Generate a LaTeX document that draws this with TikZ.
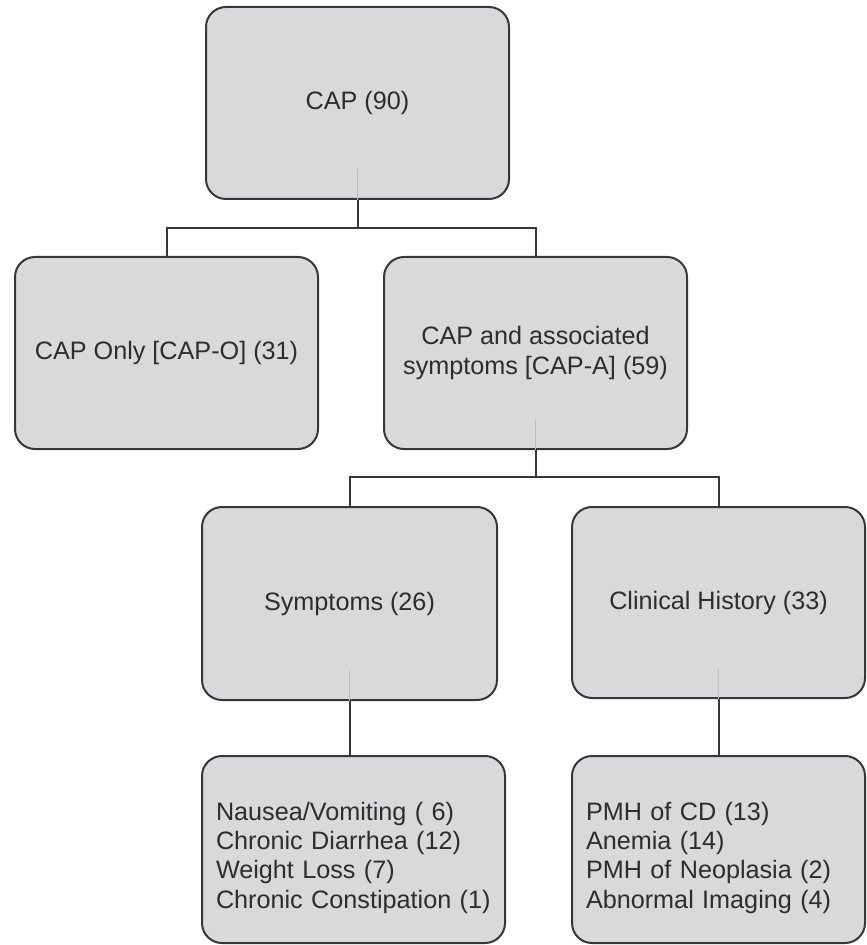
\documentclass[tikz,border=0pt]{standalone}
\usepackage{fontspec}
\setmainfont{Liberation Sans}
\definecolor{boxgray}{RGB}{216,217,219}
\definecolor{linegray}{RGB}{55,55,55}
\definecolor{textgray}{RGB}{45,45,45}
\definecolor{ghostgray}{RGB}{190,190,192}
\begin{document}
\begin{tikzpicture}[x=0.5pt,y=-0.5pt,
  box/.style={draw=linegray, line width=1pt, fill=boxgray, rounded corners=10pt,
    text=textgray, font=\fontsize{12.6}{14.6}\selectfont, align=center, inner sep=0pt},
  listbox/.style={box, align=left, inner xsep=7pt, text width=#1},
  conn/.style={draw=linegray, line width=1pt},
  ghost/.style={draw=ghostgray, line width=0.6pt}]
\useasboundingbox (0,0) rectangle (866,945);

\node[box, minimum width=151.5pt, minimum height=96pt] (cap) at (357.5,103) {CAP (90)};
\node[box, minimum width=151.5pt, minimum height=96pt] (capo) at (166.5,353) {CAP Only [CAP-O] (31)};
\node[box, minimum width=151.5pt, minimum height=96pt] (capa) at (535.5,353) {CAP and associated\\symptoms [CAP-A] (59)};
\node[box, minimum width=147.5pt, minimum height=96.5pt] (sym) at (349.5,603.5) {Symptoms (26)};
\node[box, minimum width=146.5pt, minimum height=95.5pt] (clin) at (718.5,602.5) {Clinical History (33)};
\node[listbox=137.5pt, minimum width=151.5pt, minimum height=93.5pt] (symlist) at (353.5,849.5)
  {\rule{0pt}{17.5pt}Nausea/Vomiting ( 6)\\Chronic Diarrhea (12)\\Weight Loss (7)\\Chronic Constipation (1)};
\node[listbox=132.5pt, minimum width=146.5pt, minimum height=93.5pt] (clinlist) at (718.5,849.5)
  {\rule{0pt}{17.5pt}PMH of CD (13)\\Anemia (14)\\PMH of Neoplasia (2)\\Abnormal Imaging (4)};

% faint traces inside parent boxes
\draw[ghost] ([yshift=15.5pt]cap.south) -- (cap.south);
\draw[ghost] ([yshift=15.5pt]capa.south) -- (capa.south);
\draw[ghost] ([yshift=15.5pt]sym.south) -- (sym.south);
\draw[ghost] ([yshift=15.5pt]clin.south) -- (clin.south);

% connectors
\path (cap.south) ++(0,28) coordinate (j1);
\draw[conn] (cap.south) -- (j1) (j1) -| (capo.north) (j1) -| (capa.north);
\path (capa.south) ++(0,27) coordinate (j2);
\draw[conn] (capa.south) -- (j2) (j2) -| (sym.north) (j2) -| (clin.north);
\draw[conn] (sym.south) -- (sym.south |- symlist.north);
\draw[conn] (clin.south) -- (clin.south |- clinlist.north);
\end{tikzpicture}
\end{document}
